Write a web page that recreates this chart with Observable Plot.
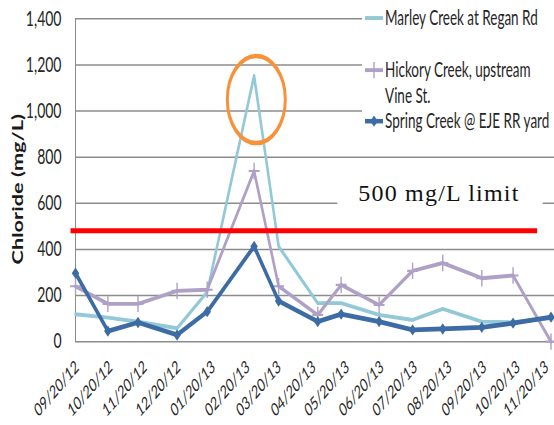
<!DOCTYPE html>
<html><head><meta charset="utf-8">
<script src="https://cdn.jsdelivr.net/npm/d3@7"></script>
<script src="https://cdn.jsdelivr.net/npm/@observablehq/plot@0.6"></script>
<style>
html,body{margin:0;padding:0;background:#fff;}
#chart{width:554px;height:425px;overflow:hidden;}
</style></head><body><div id="chart"></div>
<script>
// ---- data ----
const sampleDates = ["2012-09-20","2012-10-19","2012-11-15","2012-12-20","2013-01-16","2013-02-27","2013-03-21","2013-04-25","2013-05-16","2013-06-19","2013-07-19","2013-08-15","2013-09-19","2013-10-17","2013-11-20"];
const marley  = [119, 104, 86, 58, 215, 1152, 413, 167, 167, 116, 94, 142, 87, 84, 102];
const hickory = [240, 164, 164, 220, 225, 740, 240, 116, 246, 159, 307, 341, 275, 287, 0];
const spring  = [297, 46, 83, 29, 130, 413, 176, 87, 119, 87, 51, 55, 62, 80, 106];
const seriesNames = ["Marley Creek at Regan Rd", "Hickory Creek, upstream Vine St.", "Spring Creek @ EJE RR yard"];
const legendLines = [["Marley Creek at Regan Rd"], ["Hickory Creek, upstream", "Vine St."], ["Spring Creek @ EJE RR yard"]];
const seriesColors = ["#93C9D6", "#AFA0C6", "#3D6CA5"];
const xTickLabels = ["09/20/12","10/20/12","11/20/12","12/20/12","01/20/13","02/20/13","03/20/13","04/20/13","05/20/13","06/20/13","07/20/13","08/20/13","09/20/13","10/20/13","11/20/13"];
const yTicks = [0, 200, 400, 600, 800, 1000, 1200, 1400];
const yTickLabels = ["0","200","400","600","800","1,000","1,200","1,400"];
const yTitle = "Chloride (mg/L)";
const limitValue = 481;               // level at which the red limit line is drawn
const limitSpan = ["2012-09-16", "2013-11-08"];
const limitLabel = "500 mg/L limit";
const limitLabelAt = {date: "2013-08-12", value: 600, from: "2013-05-13", to: "2013-11-13"};
const highlight = {date: "2013-03-01", value: 1050};

// ---- helpers ----
const parseTick = s => { const [m, d, y] = s.split("/").map(Number); return new Date(Date.UTC(2000 + y, m - 1, d)); };
const toRows = vals => sampleDates.map((d, i) => ({date: new Date(d), value: vals[i]}));
const W = 554, H = 283, S = 425 / H;
const font = "Lato, 'Open Sans', sans-serif";
const ink = "#262626";
const xLabelStyle = {x: parseTick, frameAnchor: "bottom", text: d => d, rotate: -38, textAnchor: "end", lineAnchor: "top", dy: 11.5, fill: ink, fontSize: 12};

const plot = Plot.plot({
  width: W, height: H,
  marginLeft: 75, marginRight: 0, marginTop: 12, marginBottom: 56,
  style: {fontFamily: font, fontSize: "14px", color: ink, background: "#fff", overflow: "visible"},
  x: {type: "utc", domain: [new Date("2012-09-20"), new Date("2013-11-23T03:00Z")], axis: null},
  y: {domain: [0, 1400], axis: null},
  marks: [
    Plot.ruleY(yTicks, {stroke: "#8c8c8c", strokeWidth: 1}),
    Plot.ruleX([new Date("2012-09-20")], {stroke: "#8c8c8c", strokeWidth: 1}),
    Plot.text(yTicks, {frameAnchor: "left", y: d => d, text: (d, i) => yTickLabels[i], textAnchor: "end", dx: -14, fill: ink, fontSize: 14}),
    Plot.text(xTickLabels.slice(0, -1), {...xLabelStyle, dx: -1}),
    Plot.text(xTickLabels.slice(-1), {...xLabelStyle, dx: -7}),
    Plot.text([yTitle], {frameAnchor: "left", text: d => d, rotate: -90, textAnchor: "middle", lineAnchor: "middle", dx: -57, dy: 6, fontWeight: "bold", fontSize: 14.5, fill: "#1a1a1a"}),
    Plot.line(toRows(marley), {x: "date", y: "value", stroke: seriesColors[0], strokeWidth: 2.6}),
    Plot.line(toRows(hickory), {x: "date", y: "value", stroke: seriesColors[1], strokeWidth: 2.6}),
    Plot.dot(toRows(hickory), {x: "date", y: "value", symbol: "plus", r: 3.6, stroke: seriesColors[1], strokeWidth: 1.4}),
    Plot.line(toRows(spring), {x: "date", y: "value", stroke: seriesColors[2], strokeWidth: 3.2}),
    Plot.dot(toRows(spring), {x: "date", y: "value", symbol: "diamond2", r: 3.4, fill: seriesColors[2], stroke: "none"}),
    Plot.ruleY([limitValue], {x1: () => new Date(limitSpan[0]), x2: () => new Date(limitSpan[1]), stroke: "#ff0000", strokeWidth: 3.3}),
    Plot.dot([highlight], {x: d => new Date(d.date), y: "value", r: 29, stroke: "#F7923A", strokeWidth: 3, fill: "none"})
  ]
});

const xs = plot.scale("x"), ys = plot.scale("y");
const svg = d3.select(plot);

// limit annotation with white background (text kept at natural proportions)
const lx1 = xs.apply(new Date(limitLabelAt.from)), lx2 = xs.apply(new Date(limitLabelAt.to));
const ly = ys.apply(limitLabelAt.value);
svg.append("rect").attr("x", lx1).attr("y", ly - 14).attr("width", lx2 - lx1).attr("height", 19).attr("fill", "#fff");
svg.append("text")
  .attr("transform", `translate(${xs.apply(new Date(limitLabelAt.date))},${ly - 0.7}) scale(1,${1 / S})`)
  .attr("text-anchor", "middle")
  .attr("fill", "#111")
  .style("font-family", "'Liberation Serif', serif")
  .style("font-size", "24px")
  .style("letter-spacing", "1.2px")
  .text(limitLabel);

// legend
const legendRowY = [[12], [46.7, 64], [80.7]];
const lg = svg.append("g").attr("text-anchor", "start");
lg.append("rect").attr("x", 362).attr("y", 0).attr("width", 192).attr("height", 90).attr("fill", "#fff");
legendLines.forEach((lines, i) => {
  const y0 = legendRowY[i][0];
  lg.append("line").attr("x1", 365).attr("x2", 383).attr("y1", y0).attr("y2", y0)
    .attr("stroke", seriesColors[i]).attr("stroke-width", i === 2 ? 3 : 2.6);
  if (i === 1) lg.append("path").attr("transform", `translate(374,${y0})`)
    .attr("d", d3.symbol(d3.symbolPlus, Math.PI * 3.6 * 3.6)()).attr("fill", "none").attr("stroke", seriesColors[1]).attr("stroke-width", 1.4);
  if (i === 2) lg.append("path").attr("transform", `translate(374,${y0})`)
    .attr("d", d3.symbol(d3.symbolDiamond2, Math.PI * 3.4 * 3.4)()).attr("fill", seriesColors[2]);
  lines.forEach((t, j) => {
    lg.append("text").attr("x", 385).attr("y", legendRowY[i][j]).attr("dy", "0.36em")
      .attr("text-anchor", "start")
      .attr("fill", ink).style("font-family", font).style("font-size", "13.5px").text(t);
  });
});

// the reference picture is stretched vertically; reproduce that
plot.setAttribute("height", 425);
plot.setAttribute("preserveAspectRatio", "none");
plot.style.width = "554px";
plot.style.height = "425px";
plot.style.maxWidth = "none";
document.getElementById("chart").append(plot);
</script>
</body></html>
